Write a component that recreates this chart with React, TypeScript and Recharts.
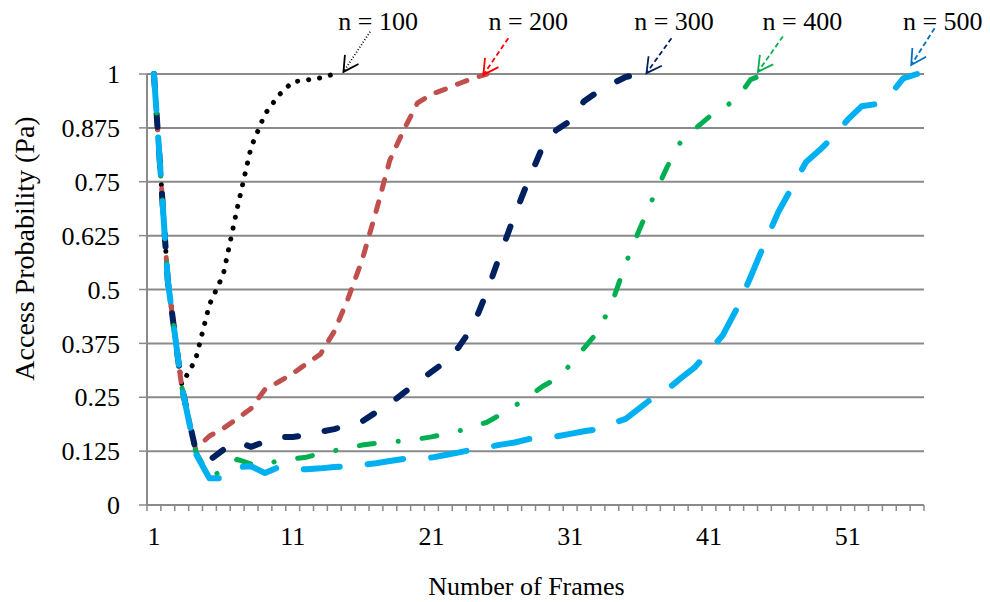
import { LineChart, Line, XAxis, YAxis, CartesianGrid, ReferenceLine, ReferenceDot, Label } from "recharts";

// categories: number of frames
const frames = Array.from({ length: 56 }, (_, i) => i + 1);
const xTickLabels = [1, 11, 21, 31, 41, 51];
const yTicks = [0, 0.125, 0.25, 0.375, 0.5, 0.625, 0.75, 0.875, 1];

// access probability per frame count, one list per n
const n100 = [1, 0.52, 0.28, 0.337, 0.465, 0.535, 0.688, 0.83, 0.907, 0.951, 0.982, 0.986, 0.991, 1];
const n200 = [
  1, 0.52, 0.275, 0.13, 0.16, 0.178, 0.2, 0.224, 0.268, 0.286, 0.305, 0.328, 0.35, 0.403, 0.48, 0.568, 0.68, 0.8,
  0.87, 0.933, 0.953, 0.965, 0.978, 0.99, 1,
];
const n300 = [
  1, 0.52, 0.275, 0.128, 0.104, 0.128, 0.147, 0.135, 0.147, 0.158, 0.158, 0.162, 0.17, 0.176, 0.186, 0.194, 0.215,
  0.235, 0.26, 0.285, 0.309, 0.332, 0.368, 0.415, 0.495, 0.585, 0.673, 0.754, 0.83, 0.87, 0.891, 0.937, 0.959, 0.977,
  0.993, 1,
];
const n400 = [
  1, 0.52, 0.275, 0.125, 0.065, 0.08, 0.106, 0.095, 0.092, 0.104, 0.107, 0.111, 0.12, 0.126, 0.132, 0.139, 0.143,
  0.146, 0.149, 0.153, 0.158, 0.165, 0.172, 0.182, 0.192, 0.21, 0.23, 0.251, 0.275, 0.293, 0.325, 0.364, 0.402,
  0.468, 0.56, 0.64, 0.715, 0.785, 0.845, 0.873, 0.9, 0.921, 0.942, 0.987, 1,
];
const n500 = [
  1, 0.52, 0.275, 0.12, 0.062, 0.062, 0.088, 0.09, 0.074, 0.088, 0.084, 0.083, 0.085, 0.088, 0.09, 0.093, 0.097,
  0.102, 0.107, 0.108, 0.11, 0.116, 0.122, 0.129, 0.134, 0.14, 0.145, 0.153, 0.156, 0.159, 0.165, 0.171, 0.176,
  0.189, 0.2, 0.225, 0.25, 0.268, 0.295, 0.32, 0.357, 0.394, 0.455, 0.529, 0.606, 0.68, 0.738, 0.796, 0.824, 0.856,
  0.894, 0.925, 0.93, 0.949, 0.99, 1,
];

// callouts: text position and arrow (tail -> tip) in data units
const calloutText = ["n = 100", "n = 200", "n = 300", "n = 400", "n = 500"];
const calloutTextX = [17.16, 27.98, 38.48, 47.74, 57.85];
const calloutTextY = [1.101, 1.101, 1.101, 1.101, 1.101];
const arrowTailX = [16.58, 26.54, 38.3, 46.33, 57.26];
const arrowTailY = [1.098, 1.083, 1.083, 1.087, 1.106];
const arrowTipX = [14.66, 24.74, 36.5, 44.53, 55.58];
const arrowTipY = [1.005, 0.998, 1.002, 1.005, 1.021];

const FONT = "'Liberation Serif', 'Times New Roman', serif";
const GRID = "#8a8a8a";
const W = 990;
const H = 602;
const MARGIN = { top: 74, right: 66, left: 0, bottom: 0 };
const Y_AXIS_W = 147;
const X_AXIS_H = 97;
const BAND = (W - MARGIN.left - Y_AXIS_W - MARGIN.right) / frames.length;

const xTickMarks = [...frames.map((f) => f - 0.5), frames.length + 0.5];

const data = frames.map((frame, i) => ({
  frame,
  n100: n100[i] ?? null,
  n200: n200[i] ?? null,
  n300: n300[i] ?? null,
  n400: n400[i] ?? null,
  n500: n500[i] ?? null,
}));

const series = [
  { key: "n100", color: "#000000", width: 5, dash: "0.1 11" },
  { key: "n200", color: "#C0504D", width: 5, dash: "10 13" },
  { key: "n300", color: "#002060", width: 6, dash: "13 27" },
  { key: "n400", color: "#00B050", width: 5, dash: "15 24 0.1 24" },
  { key: "n500", color: "#00B0F0", width: 6, dash: "36 28" },
];

const arrowStyles = [
  { color: "#000000", dash: "1 2" },
  { color: "#FF0000", dash: "5 3" },
  { color: "#002060", dash: "5 3" },
  { color: "#00B050", dash: "5 3" },
  { color: "#0070C0", dash: "5 3" },
];

function XTick(props: any) {
  const { x, y, payload } = props;
  const v = payload.value + 0.5;
  if (!xTickLabels.includes(v)) return <g />;
  return (
    <text x={x + BAND / 2} y={y} dy={32} textAnchor="middle" fontSize={26} fontFamily={FONT} fill="#000">
      {v}
    </text>
  );
}

function YTitle(props: any) {
  const { viewBox } = props;
  const cx = viewBox.x + 24;
  const cy = viewBox.y + viewBox.height / 2 - 41;
  return (
    <text
      x={cx}
      y={cy}
      transform={`rotate(-90, ${cx}, ${cy})`}
      textAnchor="middle"
      dominantBaseline="central"
      fontSize={28}
      fontFamily={FONT}
      fill="#000"
    >
      Access Probability (Pa)
    </text>
  );
}

function makeArrow(color: string, dash: string) {
  return (props: any) => {
    const { x1, y1, x2, y2 } = props;
    const ang = Math.atan2(y1 - y2, x1 - x2);
    const len = 17;
    const spread = 0.5;
    const ax = x2 + len * Math.cos(ang + spread);
    const ay = y2 + len * Math.sin(ang + spread);
    const bx = x2 + len * Math.cos(ang - spread);
    const by = y2 + len * Math.sin(ang - spread);
    return (
      <g>
        <line x1={x1} y1={y1} x2={x2} y2={y2} stroke={color} strokeWidth={1.8} strokeDasharray={dash} />
        <polyline points={`${ax},${ay} ${x2},${y2} ${bx},${by}`} fill="none" stroke={color} strokeWidth={1.8} />
      </g>
    );
  };
}

function makeCalloutText(text: string) {
  return (props: any) => (
    <text x={props.cx} y={props.cy} textAnchor="middle" fontSize={26} fontFamily={FONT} fill="#000">
      {text}
    </text>
  );
}

export default function App() {
  return (
    <div style={{ position: "absolute", left: 0, top: 0, background: "#fff" }}>
      <LineChart width={W} height={H} data={data} margin={MARGIN}>
        <CartesianGrid vertical={false} stroke={GRID} strokeWidth={2} />
        <XAxis
          dataKey="frame"
          type="number"
          domain={[0.5, 56.5]}
          ticks={xTickMarks}
          interval={0}
          height={X_AXIS_H}
          tickSize={6}
          tickMargin={2}
          tickLine={{ stroke: GRID, strokeWidth: 1.5 }}
          axisLine={{ stroke: GRID, strokeWidth: 2 }}
          tick={<XTick />}
        >
          <Label
            value="Number of Frames"
            position="insideBottom"
            offset={7}
            dx={-9}
            fontSize={26}
            fontFamily={FONT}
            fill="#000"
          />
        </XAxis>
        <YAxis
          type="number"
          domain={[0, 1]}
          ticks={yTicks}
          interval={0}
          width={Y_AXIS_W}
          tickSize={8}
          tickMargin={19}
          tickFormatter={(v) => String(v)}
          tickLine={{ stroke: GRID, strokeWidth: 1.5 }}
          axisLine={{ stroke: GRID, strokeWidth: 2 }}
          tick={{ fontSize: 26, fill: "#000", fontFamily: FONT }}
        >
          <Label content={YTitle} />
        </YAxis>
        {series.map((s) => (
          <Line
            key={s.key}
            dataKey={s.key}
            type="linear"
            stroke={s.color}
            strokeWidth={s.width}
            strokeDasharray={s.dash}
            strokeLinecap="round"
            strokeLinejoin="round"
            dot={false}
            activeDot={false}
            isAnimationActive={false}
          />
        ))}
        {calloutText.map((t, i) => (
          <ReferenceLine
            key={`arrow-${t}`}
            segment={[
              { x: arrowTailX[i], y: arrowTailY[i] },
              { x: arrowTipX[i], y: arrowTipY[i] },
            ]}
            ifOverflow="visible"
            shape={makeArrow(arrowStyles[i].color, arrowStyles[i].dash)}
          />
        ))}
        {calloutText.map((t, i) => (
          <ReferenceDot
            key={`text-${t}`}
            x={calloutTextX[i]}
            y={calloutTextY[i]}
            r={0}
            ifOverflow="visible"
            shape={makeCalloutText(t)}
          />
        ))}
      </LineChart>
    </div>
  );
}
